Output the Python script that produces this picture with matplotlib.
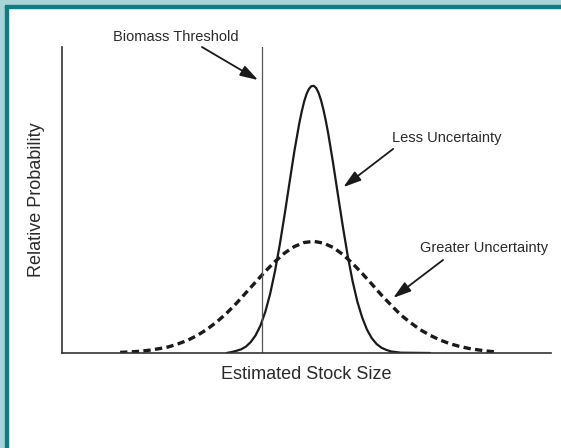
import matplotlib
matplotlib.use("Agg")
import matplotlib.pyplot as plt
from matplotlib.patches import Rectangle

plt.rcParams['font.family'] = ['Liberation Sans', 'DejaVu Sans']

# (x: stock size, y: relative probability, 0-100 scale)
less_x = [34, 35, 36, 37, 38, 39, 40, 41, 42, 43, 44, 45, 46, 47, 48, 49, 49.5, 50, 50.5, 51, 51.5, 52,
          52.5, 53, 53.5, 54, 54.5, 55, 56, 57, 58, 59, 60, 61, 62, 63, 64, 65, 66, 67, 68, 70, 76]
less_y = [0.0, 0.3, 0.7, 1.2, 2.1, 3.6, 5.8, 9.0, 13.5, 19.4, 26.8, 35.6, 45.4, 55.8, 66.0, 75.0, 78.8, 82.1, 84.6, 86.3, 87.2, 87.3,
          86.6, 85.0, 82.6, 79.5, 75.8, 71.6, 62.0, 51.6, 41.4, 31.9, 23.6, 16.8, 11.6, 7.6, 4.8, 2.9, 1.7, 1.0, 0.5, 0.1, 0.0]

greater_x = [12, 14, 16, 18, 20, 22, 24, 26, 28, 30, 32, 34, 36, 38, 40, 42, 44, 46, 48, 50, 52,
             54, 56, 58, 60, 62, 64, 66, 68, 70, 72, 74, 76, 78, 80, 82, 84, 86, 88, 90]
greater_y = [0.2, 0.35, 0.55, 0.9, 1.4, 2.0, 3.0, 4.2, 5.8, 7.8, 10.2, 13.0, 16.2, 19.7, 23.2, 26.7, 29.9, 32.7, 34.8, 36.1, 36.5,
             35.9, 34.5, 32.2, 29.3, 26.0, 22.5, 18.9, 15.6, 12.4, 9.9, 7.6, 5.8, 4.3, 3.1, 2.2, 1.5, 1.0, 0.6, 0.3]

threshold = 41.4

fig = plt.figure(figsize=(5.61, 4.48), dpi=100)
fig.patch.set_facecolor('white')

# frame on top and left edges
fig.patches.append(Rectangle((0, 1 - 6 / 448), 1, 6 / 448, transform=fig.transFigure,
                             color='#aad3d8', zorder=0))
fig.patches.append(Rectangle((0, 0), 5 / 561, 1, transform=fig.transFigure,
                             color='#aad3d8', zorder=0))
fig.patches.append(Rectangle((5 / 561, 1 - 8 / 448), 1, 2.5 / 448, transform=fig.transFigure,
                             color='#0f7b84', zorder=1))
fig.patches.append(Rectangle((5 / 561, 0), 2.5 / 561, 1 - 6 / 448, transform=fig.transFigure,
                             color='#0f7b84', zorder=1))

ax = fig.add_axes([62 / 561, 95 / 448, 489 / 561, 306 / 448])
ax.set_xlim(0, 101)
ax.set_ylim(0, 100)
ax.set_xticks([])
ax.set_yticks([])
for s in ['top', 'right']:
    ax.spines[s].set_visible(False)
for s in ['left', 'bottom']:
    ax.spines[s].set_color('#333333')
    ax.spines[s].set_linewidth(1.2)

ax.plot(less_x, less_y, color='#1a1a1a', lw=1.6, solid_capstyle='round', solid_joinstyle='round')
ax.plot(greater_x, greater_y, color='#1a1a1a', lw=2.4, linestyle=(0, (2.2, 1.3)))
ax.axvline(threshold, color='#555555', lw=0.9)

txt = '#2a2a2a'
arrow = dict(arrowstyle='-|>,head_length=0.9,head_width=0.28', color='#1a1a1a', lw=1.3,
             shrinkA=0, shrinkB=0, mutation_scale=12)
ax.annotate('', xy=(40.5, 89.2), xytext=(28.9, 100), arrowprops=arrow, annotation_clip=False)
ax.annotate('', xy=(58.1, 54.2), xytext=(68.4, 66.7), arrowprops=arrow)
ax.annotate('', xy=(68.4, 18.0), xytext=(78.7, 30.4), arrowprops=arrow)

ax.text(23.6, 103.3, 'Biomass Threshold', ha='center', va='center', fontsize=10.5,
        color=txt, clip_on=False)
ax.text(68.2, 70.3, 'Less Uncertainty', ha='left', va='center', fontsize=10.5, color=txt)
ax.text(74.0, 34.3, 'Greater Uncertainty', ha='left', va='center', fontsize=10.5, color=txt)

ax.set_xlabel('Estimated Stock Size', fontsize=13, color=txt, labelpad=9)
ax.set_ylabel('Relative Probability', fontsize=13, color=txt, labelpad=12)

fig.savefig('out.png', dpi=100)
